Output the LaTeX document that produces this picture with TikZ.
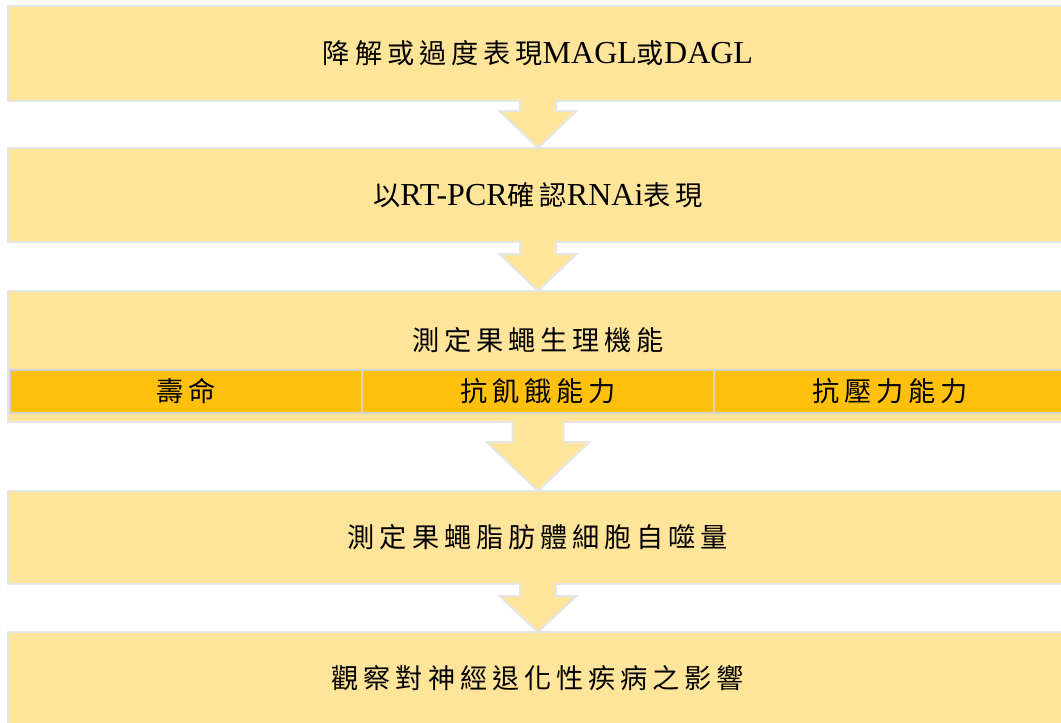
\documentclass[tikz,border=0pt]{standalone}
\usepackage{fontspec}
\setmainfont{Liberation Serif}
\newfontfamily\cjk[LetterSpace=18,Scale=0.85]{Noto Sans CJK TC}
\usetikzlibrary{calc}
\definecolor{boxfill}{HTML}{FFE599}
\definecolor{subfill}{HTML}{FFC10E}
\definecolor{boxline}{HTML}{E6E6E6}
\definecolor{subline}{HTML}{D4D4D4}
\newcommand{\txtsize}{\fontsize{24pt}{28pt}\selectfont}
\begin{document}
\begin{tikzpicture}[x=0.75pt,y=-0.75pt,
  stage/.style={rectangle, draw=boxline, fill=boxfill, line width=1.5pt, inner sep=0pt, outer sep=0pt, minimum width=795pt, font=\txtsize},
  subbox/.style={rectangle, draw=subline, fill=subfill, line width=1.5pt, inner sep=0pt, outer sep=0pt, minimum width=264pt, minimum height=32.25pt, font=\txtsize},
  txt/.style={inner sep=0pt, font=\txtsize},
  blockarrow/.style={fill=boxfill, draw=boxline, line width=1.5pt, line join=miter}]
\clip (0,0) rectangle (1061,722);
\fill[white] (0,0) rectangle (1061,722);
% stages
\node[stage, minimum height=71.25pt] (b1) at (538,53.5) {{\cjk 降解或過度表現}MAGL{\cjk 或}DAGL};
\node[stage, minimum height=70.5pt] (b2) at (538,195) {{\cjk 以}RT-PCR{\cjk 確認}RNAi{\cjk 表現}};
\node[stage, minimum height=98.25pt] (b3) at (538,356.5) {};
\node[txt] (t3) at (538,340) {\cjk 測定果蠅生理機能};
\node[subbox] (s1) at (186,391.5) {\cjk 壽命};
\node[subbox] (s2) at (538,391.5) {\cjk 抗飢餓能力};
\node[subbox] (s3) at (890,391.5) {\cjk 抗壓力能力};
\node[stage, minimum height=69.75pt] (b4) at (538,537.5) {\cjk 測定果蠅脂肪體細胞自噬量};
\node[stage, minimum height=69.75pt] (b5) at (538,678.5) {\cjk 觀察對神經退化性疾病之影響};
% block arrows
\path[blockarrow] ($(b1.south)+(-18,-1.5)$) -- ($(b2.north)+(-18,-37)$) -- ($(b2.north)+(-38.5,-37)$) -- (b2.north) -- ($(b2.north)+(38.5,-37)$) -- ($(b2.north)+(18,-37)$) -- ($(b1.south)+(18,-1.5)$);
\path[blockarrow] ($(b2.south)+(-18,-1.5)$) -- ($(b3.north)+(-18,-37)$) -- ($(b3.north)+(-38.5,-37)$) -- (b3.north) -- ($(b3.north)+(38.5,-37)$) -- ($(b3.north)+(18,-37)$) -- ($(b2.south)+(18,-1.5)$);
\path[blockarrow] ($(b3.south)+(-25.5,-1.5)$) -- ($(b4.north)+(-25.5,-49)$) -- ($(b4.north)+(-51.5,-49)$) -- (b4.north) -- ($(b4.north)+(51.5,-49)$) -- ($(b4.north)+(25.5,-49)$) -- ($(b3.south)+(25.5,-1.5)$);
\path[blockarrow] ($(b4.south)+(-18,-1.5)$) -- ($(b5.north)+(-18,-36)$) -- ($(b5.north)+(-38.5,-36)$) -- (b5.north) -- ($(b5.north)+(38.5,-36)$) -- ($(b5.north)+(18,-36)$) -- ($(b4.south)+(18,-1.5)$);
\end{tikzpicture}
\end{document}
